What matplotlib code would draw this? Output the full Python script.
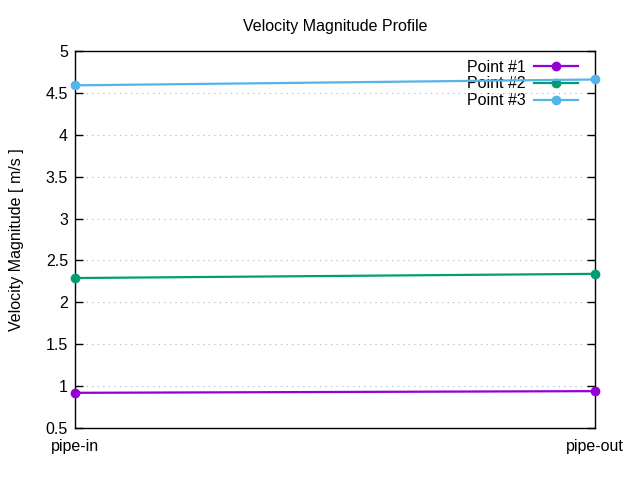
import matplotlib
matplotlib.use("Agg")
import matplotlib.pyplot as plt

plt.rcParams['font.family'] = ['Liberation Sans', 'DejaVu Sans']
plt.rcParams['font.size'] = 11.5

locations = ["pipe-in", "pipe-out"]
point1 = [0.92, 0.94]
point2 = [2.29, 2.34]
point3 = [4.59, 4.66]
labels = ["Point #1", "Point #2", "Point #3"]
colors = ["#9400d3", "#009e73", "#56b4e9"]

fig = plt.figure(figsize=(6.4, 4.8), dpi=100)
ax = fig.add_axes([75/640, 52/480, 520/640, 377/480])

x = range(len(locations))
for vals, lab, col in zip([point1, point2, point3], labels, colors):
    ax.plot(x, vals, color=col, linewidth=1.6, marker='o', markersize=6,
            label=lab, clip_on=False, zorder=3)

ax.set_xlim(0, 1)
ax.set_ylim(0.5, 5)
ax.set_yticks([0.5, 1, 1.5, 2, 2.5, 3, 3.5, 4, 4.5, 5])
ax.set_yticklabels(["0.5", "1", "1.5", "2", "2.5", "3", "3.5", "4", "4.5", "5"])
ax.set_xticks(list(x))
ax.set_xticklabels(locations)
ax.tick_params(direction='in', length=6, width=1, pad=5, right=True, top=False)
ax.tick_params(axis='x', length=0, pad=8)
ax.grid(axis='y', linestyle=(0, (1, 4)), color='#b0b0b0', linewidth=0.8)
for s in ax.spines.values():
    s.set_linewidth(1)

fig.text(335/640, 1 - 27/480, "Velocity Magnitude Profile",
         ha='center', va='center')
fig.text(17/640, 240/480, "Velocity Magnitude [ m/s ]", rotation=90,
         ha='center', va='center')

leg = ax.legend(loc='upper right', bbox_to_anchor=(0.967, 0.977), frameon=False,
                markerfirst=False, handlelength=2.75, handletextpad=0.5,
                labelspacing=0.11, borderpad=0, borderaxespad=0)
leg.set_zorder(1)

fig.savefig("out.png", dpi=100)
